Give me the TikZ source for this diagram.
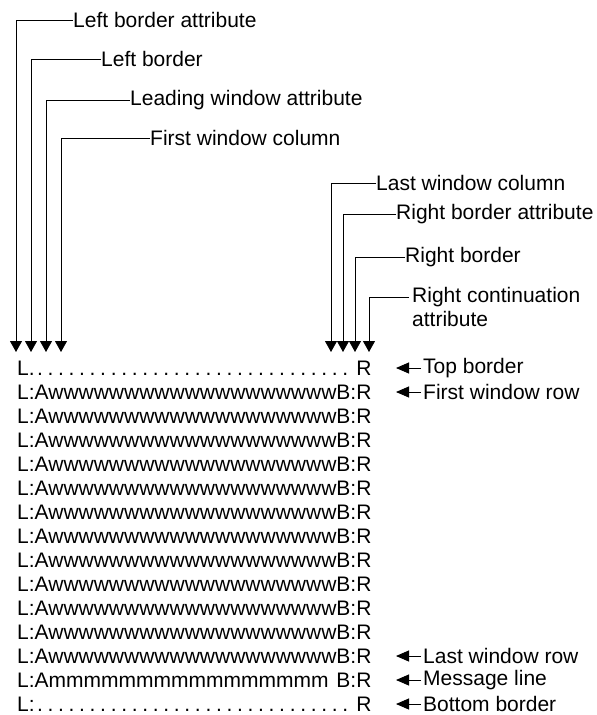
\documentclass[tikz,border=0pt]{standalone}
\usepackage{fontspec}
\setmainfont{Liberation Sans}
\usetikzlibrary{arrows.meta}
\newlength{\rowwd}
\newcommand{\wrow}{L:AwwwwwwwwwwwwwwwwwwwB:R}
\newcommand{\fitrow}[1]{\settowidth{\rowwd}{\wrow}\makebox[\rowwd][l]{#1}}
\newcommand{\dotrow}[2]{\fitrow{#1\xleaders\hbox to 0.5em{\hss.\hss}\hfill\ #2}}
\tikzset{
  lbl/.style={anchor=west, inner sep=0pt, font=\fontsize{21}{24}\selectfont},
  row/.style={anchor=west, inner sep=0pt, font=\fontsize{21}{24}\selectfont},
  leader/.style={line width=0.8pt, -{Triangle[width=12pt,length=11pt]}},
  pointer/.style={line width=0.9pt, -{Triangle[width=11pt,length=13pt]}},
}
\begin{document}
\begin{tikzpicture}[x=1pt, y=-1pt]
\useasboundingbox (0,0) rectangle (597,715);

% screen rows
\node[row] (r0) at (17,368) {\dotrow{L.}{R}};
\foreach \i in {1,...,12} {
  \node[row] (r\i) at (17,{368+24*\i}) {\wrow};
}
\node[row] (r13) at (17,{368+24*13}) {\fitrow{L:Ammmmmmmmmmmmmmmm\hfill B:R}};
\node[row] (r14) at (17,{368+24*14}) {\dotrow{L:}{R}};

% column tips
\foreach \n/\x in {la/16, lb/31, lc/46, ld/61, ra/331, rb/343, rc/355, rd/369} {
  \coordinate (t\n) at (\x,352);
}

% column labels
\node[lbl] (na) at (73,20) {Left border attribute};
\node[lbl] (nb) at (101,59) {Left border};
\node[lbl] (nc) at (130,100) {Leading window attribute};
\node[lbl] (nd) at (150,138) {First window column};
\node[lbl] (ma) at (376,183) {Last window column};
\node[lbl] (mb) at (396,214) {Right border attribute};
\node[lbl] (mc) at (405,257) {Right border};
\node[lbl, align=left, anchor=north west] (md) at (412,287) {Right continuation\\attribute};

\draw[leader] (na.west) -- (tla |- na.west) -- (tla);
\draw[leader] (nb.west) -- (tlb |- nb.west) -- (tlb);
\draw[leader] (nc.west) -- (tlc |- nc.west) -- (tlc);
\draw[leader] (nd.west) -- (tld |- nd.west) -- (tld);
\draw[leader] (ma.west) -- (tra |- ma.west) -- (tra);
\draw[leader] (mb.west) -- (trb |- mb.west) -- (trb);
\draw[leader] (mc.west) -- (trc |- mc.west) -- (trc);
\coordinate (mdl) at (409,297);
\draw[leader] (mdl) -- (trd |- mdl) -- (trd);

% row labels
\foreach \i/\t in {0/Top border, 1/First window row, 12/Last window row, 13/Message line, 14/Bottom border} {
  \node[lbl] (p\i) at (423, {368+24*\i}) {\t};
  \coordinate (q\i) at (396, {368+24*\i});
  \draw[pointer] ([xshift=-2pt]p\i.west) -- (q\i);
}
\end{tikzpicture}
\end{document}
